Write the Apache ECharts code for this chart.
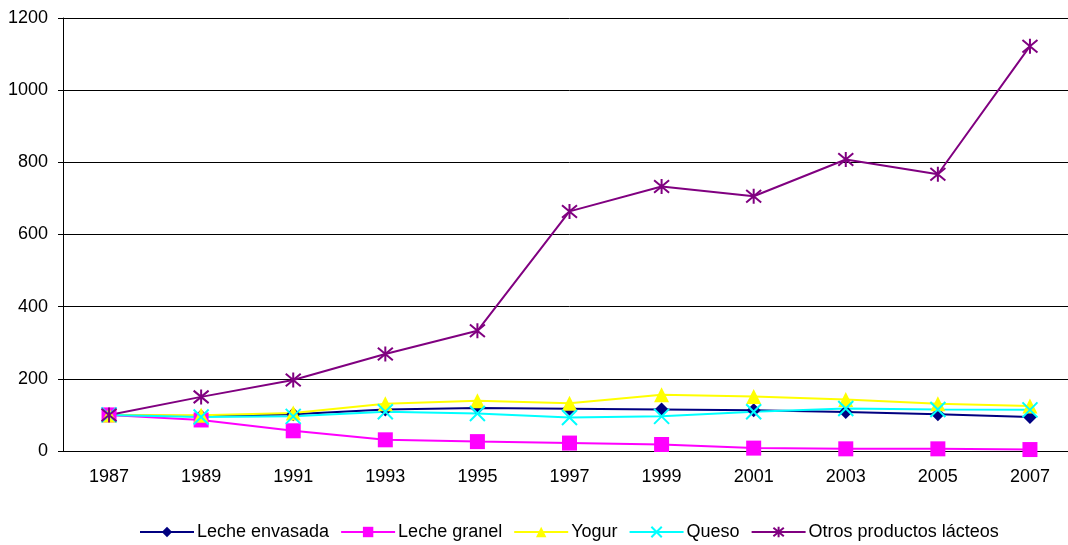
<!DOCTYPE html>
<html><head><meta charset="utf-8">
<script src="https://cdn.jsdelivr.net/npm/echarts@6/dist/echarts.min.js"></script>
<style>html,body{margin:0;padding:0;background:#fff;overflow:hidden;width:1068px;height:545px}#c{width:1076px;height:545px}</style>
</head><body><div id="c"></div>
<script>
const years = ['1987','1989','1991','1993','1995','1997','1999','2001','2003','2005','2007'];
const lecheEnvasada = [100, 96, 102, 115, 119, 117, 115, 113, 108, 102, 94];
const lecheGranel = [100, 86, 56, 31, 26, 22, 18, 8, 6, 6, 4];
const yogur = [100, 99, 105, 131, 139, 132, 156, 151, 143, 131, 125];
const queso = [100, 94, 96, 109, 104, 93, 96, 109, 118, 115, 114];
const otros = [100, 150, 197, 269, 333, 664, 733, 706, 808, 767, 1122];
const seriesNames = ['Leche envasada','Leche granel','Yogur','Queso','Otros productos lácteos'];

const font = 'Liberation Sans, Arial, sans-serif';
function mk(name, data, color, symbol, size, stroke) {
  return {
    name, type: 'line', data, symbol, symbolSize: size,
    lineStyle: {color, width: 2},
    itemStyle: stroke ? {color: color, borderColor: color, borderWidth: 2} : {color},
    emphasis: {disabled: true}, animation: false
  };
}
const chart = echarts.init(document.getElementById('c'));
chart.setOption({
  animation: false,
  grid: {left: 63, top: 18, right: 0, bottom: 94},
  xAxis: {
    type: 'category', data: years, boundaryGap: true,
    axisLine: {lineStyle: {color: '#000', width: 1}},
    axisTick: {length: 5, lineStyle: {color: '#000'}},
    axisLabel: {color: '#000', fontSize: 18, fontFamily: font, margin: 17, interval: 0}
  },
  yAxis: {
    type: 'value', min: 0, max: 1200, interval: 200,
    axisLine: {show: true, lineStyle: {color: '#000', width: 1}},
    axisTick: {show: true, length: 5, lineStyle: {color: '#000'}},
    splitLine: {lineStyle: {color: '#000', width: 1}},
    axisLabel: {color: '#000', fontSize: 18, fontFamily: font, margin: 15, formatter: v => String(v)}
  },
  legend: {
    top: 518, left: 134, itemWidth: 54, itemHeight: 13, itemGap: 11,
    textStyle: {color: '#000', fontSize: 18, fontFamily: font, padding: [0, 0, 0, -2]},
    data: seriesNames
  },
  series: [
    mk(seriesNames[0], lecheEnvasada, '#000080', 'diamond', 14),
    mk(seriesNames[1], lecheGranel, '#FF00FF', 'rect', 15),
    mk(seriesNames[2], yogur, '#FFFF00', 'triangle', 15),
    mk(seriesNames[3], queso, '#00FFFF', 'path://M0 0L10 10M10 0L0 10', 15, true),
    mk(seriesNames[4], otros, '#800080', 'path://M0 0L10 10M10 0L0 10M5 -1L5 11', 15, true)
  ]
});
</script></body></html>
